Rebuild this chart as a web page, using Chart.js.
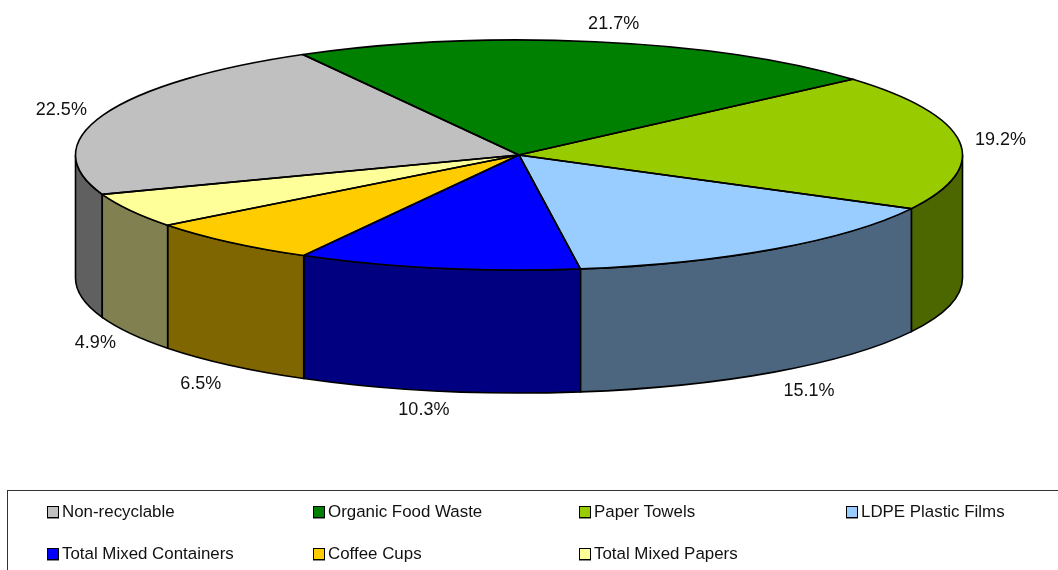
<!DOCTYPE html>
<html>
<head>
<meta charset="utf-8">
<title>Waste composition</title>
<script src="https://cdn.jsdelivr.net/npm/chart.js@4"></script>
<style>
html, body { margin: 0; padding: 0; background: #fff; overflow: hidden; }
#wrap { position: relative; width: 1058px; height: 570px; }
#legend { position: absolute; left: 7px; top: 490px; width: 1060px; height: 90px; border: 1px solid #333; box-sizing: border-box; }
.item { position: absolute; font: 16.9px "Liberation Sans", Arial, sans-serif; color: #111; line-height: 20px; white-space: nowrap; }
.swatch { position: absolute; left: -15px; top: 4px; width: 10px; height: 10px; border: 1px solid #000; box-shadow: 0 1px 0 #888; }
</style>
</head>
<body>
<div id="wrap">
    <canvas id="myChart" width="1058" height="570"></canvas>
    <div id="legend"></div>
</div>
<script>
var categories = ['Non-recyclable', 'Organic Food Waste', 'Paper Towels', 'LDPE Plastic Films', 'Total Mixed Containers', 'Coffee Cups', 'Total Mixed Papers'];
var shares = [22.5, 21.7, 19.2, 15.1, 10.3, 6.5, 4.9];
var topColors = ['#C0C0C0', '#008000', '#99CC00', '#99CCFF', '#0000FF', '#FFCC00', '#FFFF99'];
var wallColors = ['#606060', '#004000', '#4C6600', '#4C6680', '#000080', '#806600', '#808050'];

// fake 3d: the pie is drawn squashed, walls are built from the arc angles
var squash = 115 / 443.5;
var depth = 123;
var labelNudge = [[-42, -5], [19, -18], [41, -2], [35, 19], [-14, 19], [-29, 19], [-35, 10]];

function ellipsePoint(arc, angle, drop) {
    return {
        x: arc.x + arc.outerRadius * Math.cos(angle),
        y: arc.y + arc.outerRadius * squash * Math.sin(angle) + drop
    };
}

var pie3d = {
    id: 'pie3d',
    beforeDatasetsDraw: function (chart) {
        var ctx = chart.ctx;
        var arcs = chart.getDatasetMeta(0).data;

        // side walls, only the part of each slice facing the viewer
        arcs.forEach(function (arc, i) {
            var tau = Math.PI * 2;
            for (var k = -1; k <= 1; k++) {
                var a0 = Math.max(arc.startAngle + k * tau, 0);
                var a1 = Math.min(arc.endAngle + k * tau, Math.PI);
                if (a1 <= a0) continue;
                var rx = arc.outerRadius, ry = arc.outerRadius * squash;
                ctx.beginPath();
                ctx.ellipse(arc.x, arc.y, rx, ry, 0, a0, a1);
                ctx.ellipse(arc.x, arc.y + depth, rx, ry, 0, a1, a0, true);
                ctx.closePath();
                ctx.fillStyle = wallColors[i];
                ctx.fill();
                ctx.lineWidth = 1.6;
                ctx.strokeStyle = '#000';
                ctx.stroke();
            }
        });

        var first = arcs[0];
        ctx.save();
        ctx.translate(first.x, first.y);
        ctx.scale(1, squash);
        ctx.translate(-first.x, -first.y);
    },
    afterDatasetsDraw: function (chart) {
        var ctx = chart.ctx;
        ctx.restore();

        var arcs = chart.getDatasetMeta(0).data;
        ctx.lineWidth = 1.6;
        ctx.strokeStyle = '#000';
        arcs.forEach(function (arc) {
            var p = ellipsePoint(arc, arc.startAngle, 0);
            ctx.beginPath();
            ctx.moveTo(arc.x, arc.y);
            ctx.lineTo(p.x, p.y);
            ctx.ellipse(arc.x, arc.y, arc.outerRadius, arc.outerRadius * squash, 0, arc.startAngle, arc.endAngle);
            ctx.closePath();
            ctx.stroke();
        });

        // percent labels next to the rim of each slice
        ctx.font = '18px "Liberation Sans", Arial, sans-serif';
        ctx.fillStyle = '#111';
        ctx.textAlign = 'center';
        ctx.textBaseline = 'middle';
        arcs.forEach(function (arc, i) {
            var mid = (arc.startAngle + arc.endAngle) / 2;
            var p = ellipsePoint(arc, mid, Math.sin(mid) > 0 ? depth : 0);
            ctx.fillText(shares[i].toFixed(1) + '%', p.x + labelNudge[i][0], p.y + labelNudge[i][1]);
        });
    }
};

var ctx = document.getElementById('myChart').getContext('2d');
var myChart = new Chart(ctx, {
    type: 'pie',
    data: {
        labels: categories,
        datasets: [{
            data: shares,
            backgroundColor: topColors,
            borderWidth: 0,
            clip: false
        }]
    },
    options: {
        responsive: false,
        animation: false,
        rotation: -110,
        radius: 443.5,
        layout: { padding: { right: 20, bottom: 260 } },
        plugins: {
            legend: { display: false },
            tooltip: { enabled: false }
        }
    },
    plugins: [pie3d]
});

// legend box under the pie
var legendBox = document.getElementById('legend');
var columns = [54, 320, 586, 853];
var rows = [11, 53];
categories.forEach(function (name, i) {
    var item = document.createElement('div');
    item.className = 'item';
    item.style.left = columns[i % 4] + 'px';
    item.style.top = rows[Math.floor(i / 4)] + 'px';
    var swatch = document.createElement('span');
    swatch.className = 'swatch';
    swatch.style.background = topColors[i];
    item.appendChild(swatch);
    item.appendChild(document.createTextNode(name));
    legendBox.appendChild(item);
});
</script>
</body>
</html>
